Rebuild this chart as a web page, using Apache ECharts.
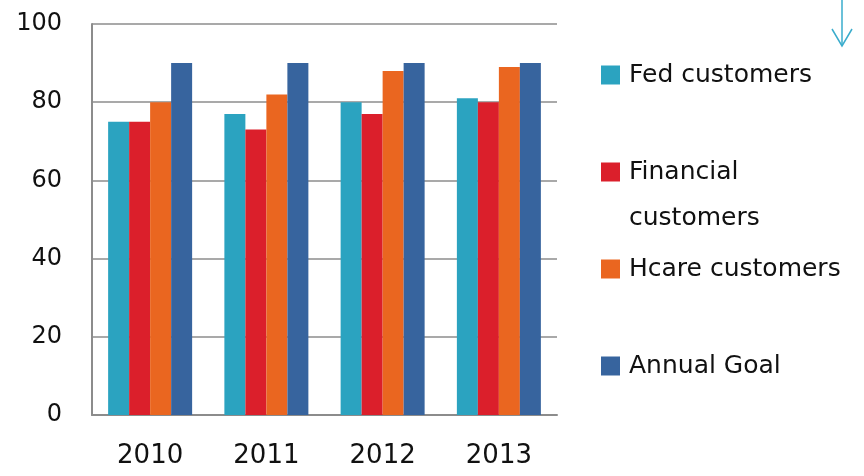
<!DOCTYPE html>
<html>
<head>
<meta charset="utf-8">
<style>
  html, body { margin: 0; padding: 0; background: #ffffff; }
  #chart { width: 864px; height: 476px; }
</style>
<script src="https://cdn.jsdelivr.net/npm/echarts@6/dist/echarts.min.js"></script>
</head>
<body>
<div id="chart"></div>
<script>
// Customer satisfaction by segment versus the annual goal
const years = ['2010', '2011', '2012', '2013'];
const fedCustomers = [75, 77, 80, 81];
const financialCustomers = [75, 73, 77, 80];
const hcareCustomers = [80, 82, 88, 89];
const annualGoal = [90, 90, 90, 90];
const yTicks = [0, 20, 40, 60, 80, 100];

const seriesNames = ['Fed customers', 'Financial customers', 'Hcare customers', 'Annual Goal'];
const seriesValues = [fedCustomers, financialCustomers, hcareCustomers, annualGoal];
const seriesColors = ['#2ba3c0', '#db1f2b', '#ea6620', '#37649e'];

const FONT = '"DejaVu Sans", sans-serif';
const chart = echarts.init(document.getElementById('chart'), null, { renderer: 'canvas' });

// One legend block per series so each entry sits at its own height
function legendAt(name, top, label, lineHeight) {
  return {
    orient: 'vertical',
    left: 601,
    top: top,
    padding: 0,
    itemWidth: 19,
    itemHeight: 19,
    itemGap: 0,
    icon: 'rect',
    selectedMode: false,
    data: [name],
    formatter: () => label,
    textStyle: { fontFamily: FONT, fontSize: 25, color: '#111111', lineHeight: lineHeight, padding: [0, 0, 0, 4] }
  };
}

chart.setOption({
  animation: false,
  backgroundColor: '#ffffff',
  grid: { left: 92, right: 307, top: 24, bottom: 61, containLabel: false },
  xAxis: {
    type: 'category',
    data: years,
    axisLine: { show: true, lineStyle: { color: '#8c8c8c', width: 2 } },
    axisTick: { show: false },
    axisLabel: { fontFamily: FONT, fontSize: 26, color: '#111111', margin: 28 }
  },
  yAxis: {
    type: 'value',
    min: yTicks[0],
    max: yTicks[yTicks.length - 1],
    interval: yTicks[1] - yTicks[0],
    axisLine: { show: true, lineStyle: { color: '#8c8c8c', width: 2 } },
    axisTick: { show: false },
    splitLine: { show: true, lineStyle: { color: '#8c8c8c', width: 1.5 } },
    axisLabel: { fontFamily: FONT, fontSize: 24, color: '#111111', margin: 30, padding: [0, 0, 7, 0] }
  },
  legend: [
    legendAt(seriesNames[0], 55, seriesNames[0], 40),
    legendAt(seriesNames[1], 103, ' \nFinancial\ncustomers', 46),
    legendAt(seriesNames[2], 249, seriesNames[2], 40),
    legendAt(seriesNames[3], 346, seriesNames[3], 40)
  ],
  series: seriesNames.map((name, i) => ({
    name: name,
    type: 'bar',
    data: seriesValues[i],
    barWidth: 21,
    barGap: '0%',
    itemStyle: { color: seriesColors[i] }
  })),
  graphic: [
    {
      type: 'polyline',
      shape: { points: [[842, 0], [842, 46]] },
      style: { stroke: '#3aaccc', lineWidth: 1.5, fill: null }
    },
    {
      type: 'polyline',
      shape: { points: [[832, 29], [842, 46], [852, 29]] },
      style: { stroke: '#3aaccc', lineWidth: 1.5, fill: null }
    }
  ]
});
</script>
</body>
</html>
